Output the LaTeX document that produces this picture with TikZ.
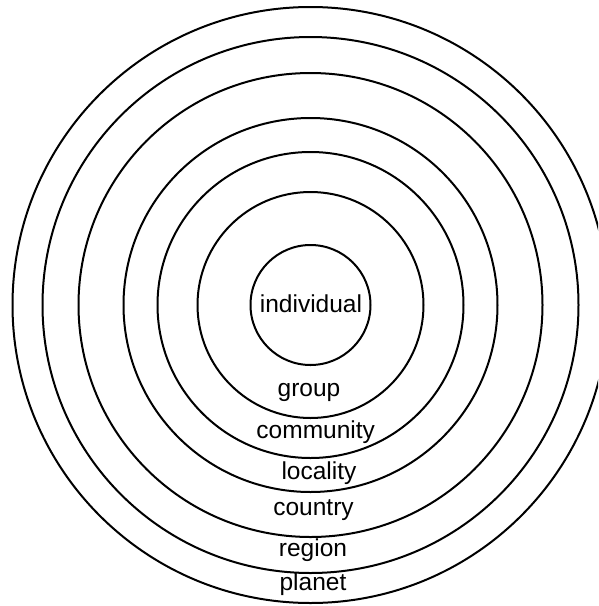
\documentclass[tikz,border=0pt]{standalone}
\usepackage{fontspec}
\setmainfont{Liberation Sans}
\begin{document}
\begin{tikzpicture}[x=1pt,y=-1pt,
  ring/.style={draw=black,line width=2pt},
  lbl/.style={anchor=base,inner sep=0pt,font=\fontsize{24.5}{28}\selectfont}]
\useasboundingbox (0,0) rectangle (598,606);
\clip (0,0) rectangle (598,606);
\coordinate (ctr) at (310.5,305);
% nested rings, innermost first
\foreach \r in {60,113,153,187,232,268,298}
  \draw[ring] (ctr) circle[radius=\r];
% ring labels
\node[lbl] (individual) at (311,312.7) {individual};
\node[lbl] (group)      at (309,396.6) {group};
\node[lbl] (community)  at (315.7,438.6) {community};
\node[lbl] (locality)   at (319,479.4) {locality};
\node[lbl] (country)    at (313.5,515.6) {country};
\node[lbl] (region)     at (313,556.8) {region};
\node[lbl] (planet)     at (313,590.4) {planet};
\end{tikzpicture}
\end{document}
